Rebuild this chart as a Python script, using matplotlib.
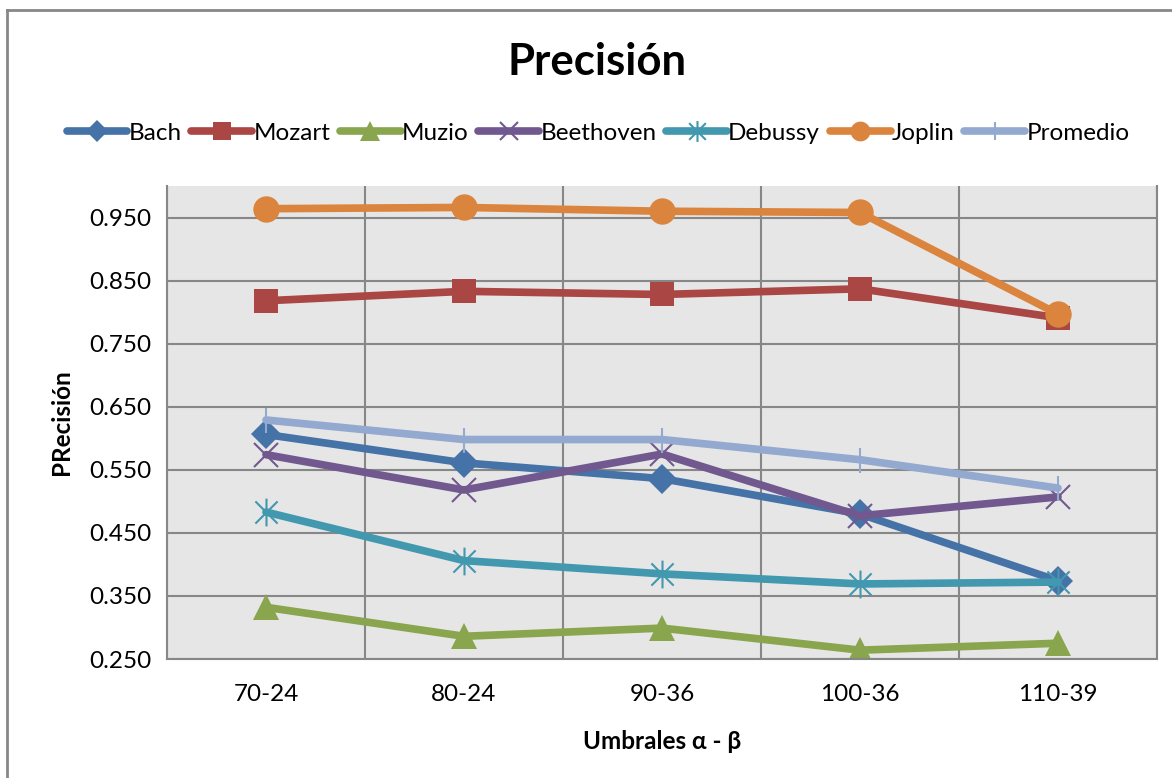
import numpy as np
import matplotlib
matplotlib.use("Agg")
import matplotlib.pyplot as plt
from matplotlib.path import Path
from matplotlib.lines import Line2D

plt.rcParams['font.family'] = ['Lato', 'DejaVu Sans']

# Umbrales y precisión por compositor
umbrales = ["70-24", "80-24", "90-36", "100-36", "110-39"]
bach = [0.606, 0.561, 0.536, 0.480, 0.374]
mozart = [0.818, 0.833, 0.828, 0.837, 0.791]
muzio = [0.332, 0.286, 0.299, 0.264, 0.275]
beethoven = [0.574, 0.518, 0.575, 0.477, 0.507]
debussy = [0.483, 0.406, 0.385, 0.369, 0.372]
joplin = [0.964, 0.966, 0.960, 0.958, 0.797]
promedio = [0.629, 0.598, 0.598, 0.566, 0.521]

# marcador tipo asterisco (X + línea vertical)
estrella = Path([(-1, -1), (1, 1), (-1, 1), (1, -1), (0, -1.25), (0, 1.25)],
                [Path.MOVETO, Path.LINETO, Path.MOVETO, Path.LINETO, Path.MOVETO, Path.LINETO])

series = [
    ("Bach", bach, "#4572A7", "D", 15, 0),
    ("Mozart", mozart, "#AA4643", "s", 17, 0),
    ("Muzio", muzio, "#89A54E", "^", 19, 0),
    ("Beethoven", beethoven, "#71588F", "x", 17, 1.5),
    ("Debussy", debussy, "#4198AF", estrella, 20, 1.5),
    ("Joplin", joplin, "#DB843D", "o", 19, 0),
    ("Promedio", promedio, "#93A9CF", "|", 18, 1.5),
]

fig = plt.figure(figsize=(11.72, 7.78), dpi=100)
ax = fig.add_axes([167/1172, 1 - 659/778, 990/1172, 473/778])
ax.set_facecolor("#E6E6E6")

x = np.arange(len(umbrales))
handles = []
for nombre, vals, color, mk, ms, mew in series:
    if mew > 0:
        kw = dict(markeredgecolor=color, markeredgewidth=mew, markerfacecolor="none")
    else:
        kw = dict(markeredgecolor=color, markeredgewidth=0, markerfacecolor=color)
    ln, = ax.plot(x, vals, color=color, lw=5.5, marker=mk, ms=ms,
                  solid_capstyle="round", solid_joinstyle="round", label=nombre, **kw)
    handles.append(ln)

ax.set_xlim(-0.5, len(umbrales) - 0.5)
ax.set_ylim(0.25, 1.0)
ax.set_yticks(np.arange(0.25, 0.96, 0.1))
ax.set_yticklabels([f"{v:.3f}" for v in np.arange(0.25, 0.96, 0.1)])
ax.set_xticks(x)
ax.set_xticklabels(umbrales)
ax.set_xticks(np.arange(-0.5, len(umbrales), 1), minor=True)
ax.tick_params(axis="both", which="both", length=0, labelsize=17.5, pad=11)
ax.tick_params(axis="x", pad=18)
ax.grid(True, axis="y", color="#878787", lw=1.5)
ax.grid(True, axis="x", which="minor", color="#878787", lw=1.5)
ax.set_axisbelow(True)
for s in ["left", "bottom", "right"]:
    ax.spines[s].set_color("#878787")
    ax.spines[s].set_linewidth(1.5)
ax.spines["top"].set_visible(False)

ax.set_xlabel("Umbrales α - β", fontsize=17.5, fontweight="bold", labelpad=18)
ax.set_ylabel("PRecisión", fontsize=17.5, fontweight="bold", labelpad=12)

fig.text(597/1172, 1 - 62/778, "Precisión", ha="center", va="center",
         fontsize=31.5, fontweight="bold")

fig.legend(handles=handles, loc="center", bbox_to_anchor=(598/1172, 1 - 133/778),
           ncol=7, frameon=False, fontsize=17.5, handlelength=2.5, handletextpad=0.05,
           columnspacing=0.4, markerscale=0.75)

# marco exterior
fig.add_artist(Line2D([7/1172, 7/1172], [0, 1 - 10/778], transform=fig.transFigure,
                      color="#878787", lw=2))
fig.add_artist(Line2D([7/1172, 1], [1 - 10/778, 1 - 10/778], transform=fig.transFigure,
                      color="#878787", lw=2))

fig.savefig("out.png", dpi=100)
